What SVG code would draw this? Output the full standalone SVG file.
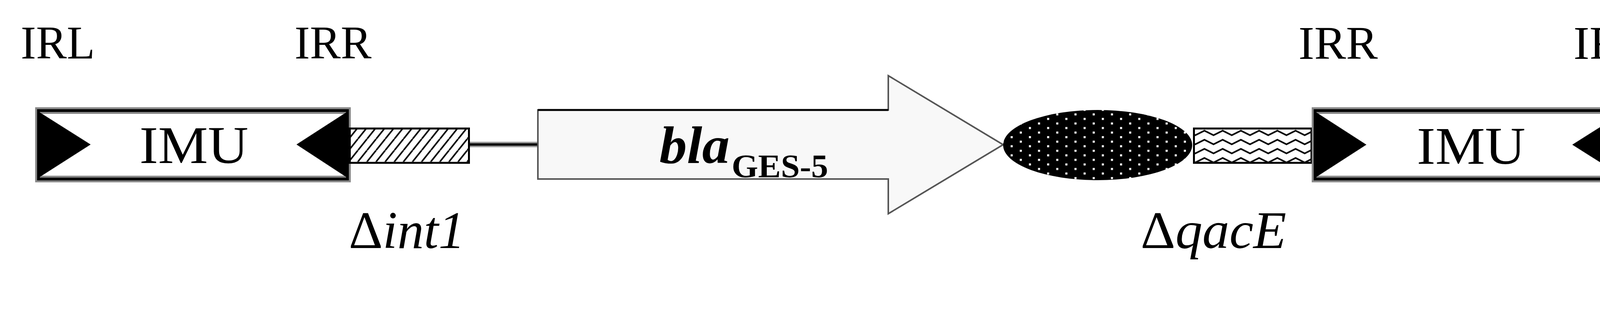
<svg xmlns="http://www.w3.org/2000/svg" width="4292" height="800" viewBox="0 0 4292 800">
  <style>
    .t { font-family: "Liberation Serif", "Times New Roman", serif; fill: #000; }
    .ir { font-size: 121px; }
    .imu { font-size: 136px; }
    .del { font-size: 136px; }
    .it { font-style: italic; }
    .boxOuter { fill: #fff; stroke: #888; stroke-width: 17; }
    .boxInner { fill: none; stroke: #000; stroke-width: 7; }
    .tri { fill: #000; }
  </style>
  <defs>
    <pattern id="hatch" patternUnits="userSpaceOnUse" x="893" y="327" width="23.33" height="29.17">
      <rect width="23.33" height="29.17" fill="#fff"/>
      <path d="M-23.33,29.17 L0,0 M0,29.17 L23.33,0 M23.33,29.17 L46.67,0" stroke="#000" stroke-width="4" fill="none"/>
    </pattern>
    <pattern id="dots" patternUnits="userSpaceOnUse" x="2867.3" y="302.3" width="46.67" height="23.33">
      <rect width="46.67" height="23.33" fill="#000"/>
      <rect x="0" y="0" width="5.3" height="5.3" fill="#fff"/>
      <rect x="23.33" y="11.67" width="5.3" height="5.3" fill="#fff"/>
    </pattern>
    <pattern id="zigzag" patternUnits="userSpaceOnUse" x="3083.33" y="331" width="46.67" height="23.33">
      <rect width="46.67" height="23.33" fill="#fff"/>
      <path d="M-23.33,15.67 L0,4 L23.33,15.67 L46.67,4 L70,15.67" stroke="#000" stroke-width="4" fill="none"/>
    </pattern>
  </defs>
  <rect width="4292" height="800" fill="#fff"/>

  <g id="connectors">
    <line x1="1203" y1="370.5" x2="1377" y2="370.5" stroke="#999" stroke-width="14"/>
    <line x1="1203" y1="370.5" x2="1377" y2="370.5" stroke="#000" stroke-width="6"/>
  </g>

  <g id="imu-left">
    <rect class="boxOuter" x="98.5" y="283.5" width="791" height="175.5"/>
    <rect class="boxInner" x="98.5" y="283.5" width="791" height="175.5"/>
    <polygon class="tri" points="100,287 232,370.5 100,455"/>
    <polygon class="tri" points="888,287 759,370.5 888,455"/>
    <text class="t imu" x="357" y="418" textLength="279" lengthAdjust="spacingAndGlyphs">IMU</text>
    <text class="t ir" x="53" y="150" textLength="190" lengthAdjust="spacingAndGlyphs">IRL</text>
    <text class="t ir" x="754" y="150" textLength="197" lengthAdjust="spacingAndGlyphs">IRR</text>
  </g>

  <g id="int1">
    <rect x="895.5" y="329.5" width="305" height="88" fill="url(#hatch)" stroke="#000" stroke-width="5"/>
    <text class="t del" x="893" y="636" textLength="297" lengthAdjust="spacingAndGlyphs">Δ<tspan class="it">int1</tspan></text>
  </g>

  <g id="bla">
    <polygon points="1377,282 2274,282 2274,194 2568,371 2274,548 2274,459 1377,459" fill="#f8f8f8" stroke="#555" stroke-width="4"/>
    <line x1="1377" y1="282" x2="2274" y2="282" stroke="#000" stroke-width="5"/>
    <text class="t" x="1688" y="418" font-size="136" font-weight="bold" font-style="italic" textLength="180" lengthAdjust="spacingAndGlyphs">bla</text>
    <text class="t" x="1873" y="455" font-size="84" font-weight="bold" textLength="247" lengthAdjust="spacingAndGlyphs">GES-5</text>
  </g>

  <g id="attC">
    <ellipse cx="2810" cy="372" rx="242" ry="90" fill="url(#dots)"/>
  </g>

  <g id="qacE">
    <rect x="3056.5" y="329.5" width="301" height="88" fill="url(#zigzag)" stroke="#000" stroke-width="5"/>
    <text class="t del" x="2920" y="636" textLength="373" lengthAdjust="spacingAndGlyphs">Δ<tspan class="it">qacE</tspan></text>
  </g>

  <g id="imu-right">
    <rect class="boxOuter" x="3366.5" y="283.5" width="793" height="175.5"/>
    <rect class="boxInner" x="3366.5" y="283.5" width="793" height="175.5"/>
    <polygon class="tri" points="3368,287 3498,371 3368,455"/>
    <polygon class="tri" points="4158,287 4025,371 4158,455"/>
    <text class="t imu" x="3627" y="420" textLength="278" lengthAdjust="spacingAndGlyphs">IMU</text>
    <text class="t ir" x="3324" y="151" textLength="203" lengthAdjust="spacingAndGlyphs">IRR</text>
    <text class="t ir" x="4028" y="151" textLength="198" lengthAdjust="spacingAndGlyphs">IRL</text>
  </g>
</svg>
